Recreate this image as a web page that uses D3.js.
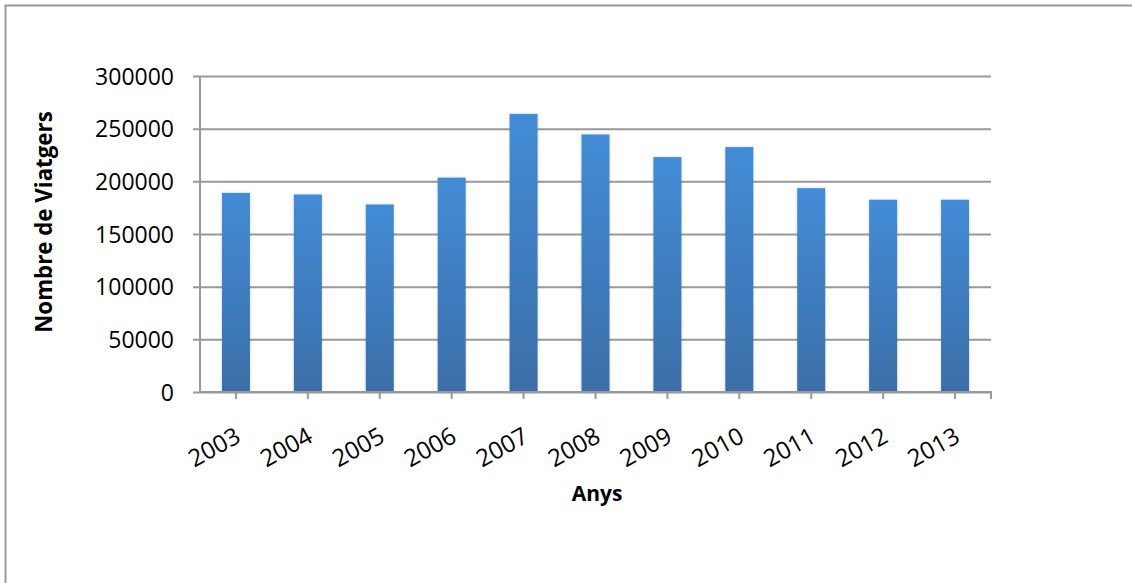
<!DOCTYPE html>
<html>
<head>
<meta charset="utf-8">
<script src="https://cdn.jsdelivr.net/npm/d3@7"></script>
<style>
  html, body { margin: 0; padding: 0; background: #fff; }
  svg { display: block; }
  text { font-family: "Open Sans", "Liberation Sans", sans-serif; fill: #000; }
</style>
</head>
<body>
<svg id="chart" width="1132" height="583"></svg>
<script>
const years = ["2003","2004","2005","2006","2007","2008","2009","2010","2011","2012","2013"];
const viatgers = [189000, 187500, 178000, 203500, 264000, 244500, 223000, 232500, 193500, 182500, 182500];
const yTicks = [0, 50000, 100000, 150000, 200000, 250000, 300000];
const xTitle = "Anys";
const yTitle = "Nombre de Viatgers";

const svg = d3.select("#chart");
const W = 1132, H = 583;
const m = { left: 200, right: 991, top: 76, bottom: 392 };

// outer border
svg.append("rect")
  .attr("x", 5.5).attr("y", 5.5)
  .attr("width", W + 20).attr("height", H + 20)
  .attr("fill", "#fff").attr("stroke", "#999").attr("stroke-width", 2);

const x = d3.scaleBand().domain(years).range([m.left, m.right]).paddingInner(0).paddingOuter(0);
const y = d3.scaleLinear().domain([0, 300000]).range([m.bottom, m.top]);

const defs = svg.append("defs");
const grad = defs.append("linearGradient").attr("id", "barGrad")
  .attr("x1", 0).attr("y1", 0).attr("x2", 0).attr("y2", 1);
grad.append("stop").attr("offset", "0%").attr("stop-color", "#438cd7");
grad.append("stop").attr("offset", "100%").attr("stop-color", "#3a6ea8");
const f = defs.append("filter").attr("id", "shadow").attr("x", "-30%").attr("y", "-10%").attr("width", "160%").attr("height", "120%");
f.append("feDropShadow").attr("dx", 0).attr("dy", 0).attr("stdDeviation", 1.5)
  .attr("flood-color", "#000").attr("flood-opacity", 0.18);

// gridlines + y axis
const yAxis = d3.axisLeft(y).tickValues(yTicks).tickSize(-(m.right - m.left)).tickFormat(d3.format("d")).tickPadding(20);
const gy = svg.append("g").attr("transform", `translate(${m.left},0)`).call(yAxis);
gy.select(".domain").remove();
gy.selectAll(".tick line").attr("x1", -7).attr("stroke", "#999").attr("stroke-width", 2);
gy.selectAll(".tick text").attr("font-size", 23).attr("fill", "#000").attr("x", -26).attr("dy", "0.36em");
svg.append("line").attr("x1", m.left).attr("x2", m.left).attr("y1", m.top).attr("y2", m.bottom)
  .attr("stroke", "#999").attr("stroke-width", 2);

// bars
const bw = 28;
svg.append("g").selectAll("rect").data(years.map((yr, i) => ({ yr, v: viatgers[i] })))
  .join("rect")
  .attr("x", d => x(d.yr) + x.bandwidth() / 2 - bw / 2)
  .attr("width", bw)
  .attr("y", d => y(d.v))
  .attr("height", d => y(0) - y(d.v))
  .attr("fill", "url(#barGrad)")
  .attr("filter", "url(#shadow)");

// x axis
const xAxis = d3.axisBottom(x).tickSize(7).tickPadding(0);
const gx = svg.append("g").attr("transform", `translate(0,${m.bottom})`).call(xAxis);
gx.select(".domain").attr("d", `M${m.left},0H${m.right}V7`).attr("stroke", "#999").attr("stroke-width", 2).attr("fill", "none");
gx.selectAll(".tick line").attr("stroke", "#999").attr("stroke-width", 2);
gx.selectAll(".tick text")
  .attr("font-size", 24)
  .attr("text-anchor", "end")
  .attr("dy", 0)
  .attr("transform", "translate(3,43) rotate(-29)");

// titles
svg.append("text").attr("x", 597).attr("y", 501).attr("text-anchor", "middle")
  .attr("font-size", 21).attr("font-weight", "bold").text(xTitle);
svg.append("text").attr("transform", "translate(52,222) rotate(-90)").attr("text-anchor", "middle")
  .attr("font-size", 22.3).attr("font-weight", "bold").text(yTitle);
</script>
</body>
</html>
